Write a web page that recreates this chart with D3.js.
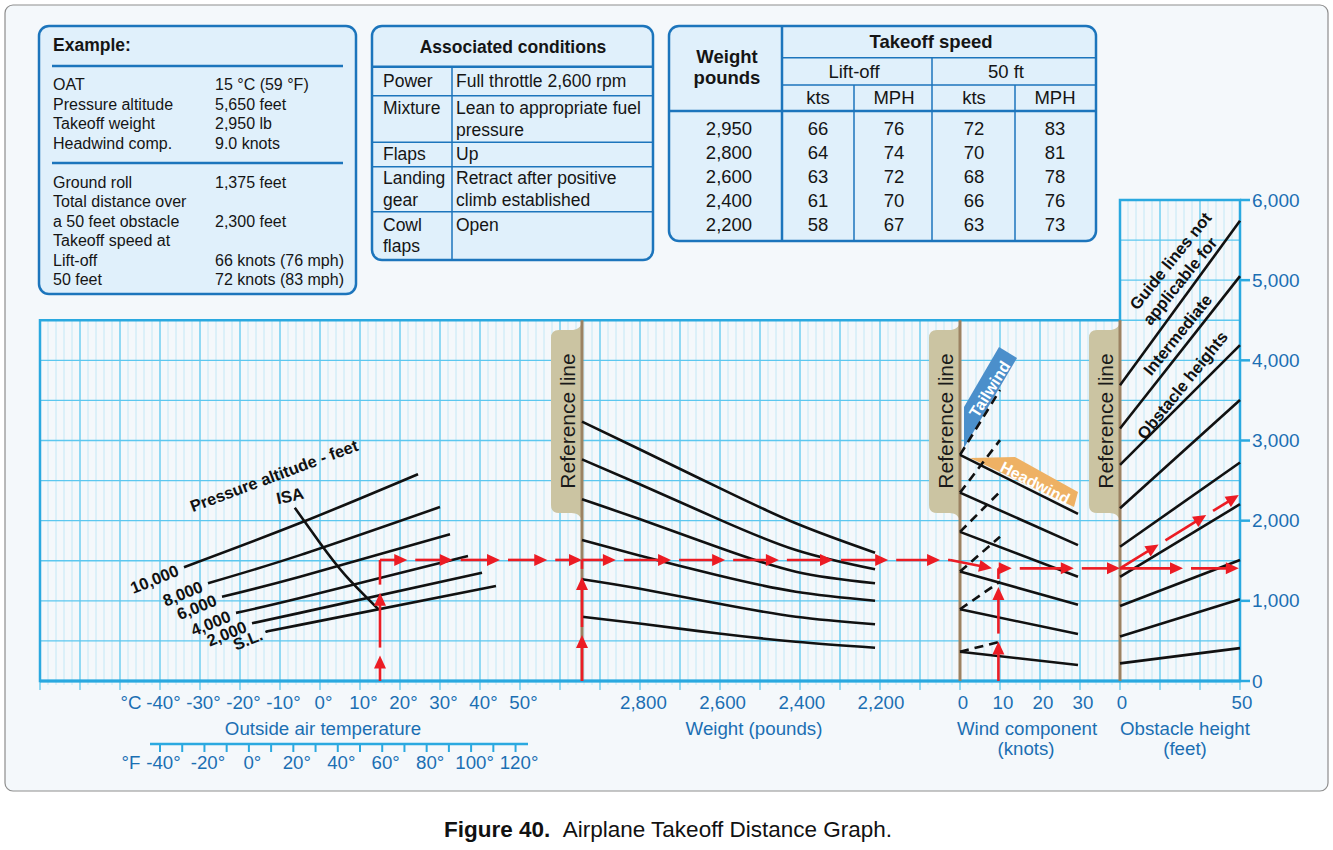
<!DOCTYPE html>
<meta charset="utf-8">
<head>
    <title>Airplane Takeoff Distance Graph</title>
    <script src="https://d3js.org/d3.v7.min.js"></script>
</head>

<style>
body { margin: 0; background: #ffffff; }
svg { display: block; font-family: "Liberation Sans", Arial, Helvetica, sans-serif; }
.boxText { fill: #151515; }
.axisText { fill: #1b6fb3; font-size: 18.7px; }
.curve { fill: none; stroke: #111; stroke-width: 2.6px; }
.note { font-size: 16.5px; font-weight: bold; fill: #111; }
</style>

<body>

<svg></svg>

<script>

// ---- chart values ----

// takeoff distance (feet), shared by every section
let distanceTicks = [0, 1000, 2000, 3000, 4000, 5000, 6000];

// tick labels
let celsiusTicks = [-40, -30, -20, -10, 0, 10, 20, 30, 40, 50];
let fahrenheitTicks = [-40, -30, -20, -10, 0, 10, 20, 30, 40, 50, 60, 70, 80, 90, 100, 110, 120];
let fahrenheitLabels = [-40, -20, 0, 20, 40, 60, 80, 100, 120];
let weightTicks = [2800, 2600, 2400, 2200];
let windTicks = [0, 10, 20, 30];
let obstacleTicks = [0, 50];

// pressure altitude curves: [°C, feet]
let altitudeNames = ["10,000", "8,000", "6,000", "4,000", "2,000", "S.L."];
let altitudeLines = [
  [[-34, 1420], [-5, 1970], [24.5, 2580]],
  [[-28, 1220], [-5, 1570], [30, 2170]],
  [[-24.5, 1050], [-5, 1300], [32.5, 1830]],
  [[-21, 850], [-5, 1035], [37, 1560]],
  [[-17, 720], [-5, 850], [40.5, 1350]],
  [[-13, 620], [-5, 700], [44, 1185]]
];
let isaLine = [[-6.3, 2160], [0, 1720], [6.3, 1320], [14.7, 890]];

// weight guide lines: feet at each weight
let weightSteps = [2950, 2810, 2610, 2410, 2210];
let weightLines = [
  [3235, 2903, 2424, 1967, 1600],
  [2765, 2466, 2029, 1634, 1393],
  [2266, 2029, 1675, 1363, 1219],
  [1759, 1572, 1322, 1114, 1002],
  [1269, 1156, 969, 802, 707],
  [802, 720, 595, 490, 415]
];

// wind guide lines: feet at 0 kt, 29.5 kt (headwind) and 10 kt (tailwind)
let windSteps = [0, 29.5, 10];
let headwindStart = [2820, 2350, 1860, 1365, 895, 365];
let headwindEnd = [2085, 1695, 1300, 950, 585, 200];
let tailwindEnd = [3630, 3005, 2360, 1800, 1240, 490];

// obstacle guide lines: feet at 0 ft and 50 ft obstacle
let obstacleStart = [3690, 3150, 2695, 2155, 1675, 1300, 935, 555, 220];
let obstacleEnd = [5740, 5050, 4190, 3505, 2725, 2205, 1510, 1020, 410];

// worked example path (section, value, feet) and arrowhead spots
let guideLegs = [
  {from: ["temp", 15, 0], to: ["temp", 15, 1510], heads: [0.21, 0.73]},
  {from: ["temp", 15, 1510], to: ["weight", 2950, 1510], heads: [0.135, 0.36, 0.594, 0.828, 1]},
  {from: ["weight", 2950, 0], to: ["weight", 2950, 1510], heads: [0.38, 0.86]},
  {from: ["weight", 2950, 1510], to: ["wind", -2.5, 1510], heads: [0.092, 0.242, 0.389, 0.535, 0.682, 0.832, 0.973]},
  {from: ["wind", -2.5, 1510], to: ["wind", 8, 1405], heads: [1]},
  {from: ["wind", 9.6, 0], to: ["wind", 9.6, 1405], heads: [0.35, 0.835]},
  {from: ["wind", 9.6, 1405], to: ["obstacle", 0, 1405], heads: [0.11, 0.62, 1]},
  {from: ["obstacle", 0, 1405], to: ["obstacle", 50, 1405], heads: [0.525, 0.99]},
  {from: ["obstacle", 0, 1405], to: ["obstacle", 49.5, 2320], heads: [0.325, 0.726, 1]}
];

// boxes
let exampleInputs = [["OAT", "15 °C (59 °F)"], ["Pressure altitude", "5,650 feet"],
  ["Takeoff weight", "2,950 lb"], ["Headwind comp.", "9.0 knots"]];
let exampleResults = [["Ground roll", "1,375 feet"], ["Total distance over", ""],
  ["a 50 feet obstacle", "2,300 feet"], ["Takeoff speed at", ""],
  ["Lift-off", "66 knots (76 mph)"], ["50 feet", "72 knots (83 mph)"]];
let conditionNames = [["Power"], ["Mixture"], ["Flaps"], ["Landing", "gear"], ["Cowl", "flaps"]];
let conditionValues = [["Full throttle 2,600 rpm"], ["Lean to appropriate fuel", "pressure"], ["Up"],
  ["Retract after positive", "climb established"], ["Open"]];

let speedWeights = ["2,950", "2,800", "2,600", "2,400", "2,200"];
let liftoffKts = [66, 64, 63, 61, 58];
let liftoffMph = [76, 74, 72, 70, 67];
let fiftyKts = [72, 70, 68, 66, 63];
let fiftyMph = [83, 81, 78, 76, 73];

// ---- scales ----
let y = d3.scaleLinear().domain([0, 6000]).range([681, 200]);
let xTemp = d3.scaleLinear().domain([0, 50]).range([320, 520]);
let xFahr = function(f) { return xTemp((f - 32) * 5 / 9); };
let xWeight = d3.scaleLinear().domain([2950, 2200]).range([582, 879]);
let xWind = d3.scaleLinear().domain([0, 30]).range([960, 1080]);
let xObst = d3.scaleLinear().domain([0, 50]).range([1120, 1240]);
let sectionX = {temp: xTemp, weight: xWeight, wind: xWind, obstacle: xObst};

let blue = "#1c75bc";
let gridBlue = "#2aa9e0";

var svg = d3.select("svg").attr("width", 1333).attr("height", 850);

// outer frame
svg.append("rect")
  .attr("x", 5).attr("y", 5).attr("width", 1323).attr("height", 786).attr("rx", 8)
  .attr("fill", "#f4f8fb").attr("stroke", "#8d8d8d").attr("stroke-width", 1.2);

// ---- example box ----
let ex = svg.append("g");
ex.append("rect").attr("x", 39).attr("y", 26).attr("width", 317).attr("height", 268).attr("rx", 10)
  .attr("fill", "#e0f0fb").attr("stroke", blue).attr("stroke-width", 2.5);
ex.append("text").attr("class", "boxText").attr("x", 53).attr("y", 51)
  .style("font-weight", "bold").style("font-size", "17.5px").text("Example:");
[66, 163].forEach(function(v) {
  ex.append("line").attr("x1", 52).attr("x2", 343).attr("y1", v).attr("y2", v)
    .attr("stroke", blue).attr("stroke-width", 2.5);
});
function exampleRows(rows, top) {
  rows.forEach(function(r, i) {
    ex.append("text").attr("class", "boxText").attr("x", 53).attr("y", top + i * 19.5)
      .style("font-size", "16px").text(r[0]);
    ex.append("text").attr("class", "boxText").attr("x", 215).attr("y", top + i * 19.5)
      .style("font-size", "16px").text(r[1]);
  });
}
exampleRows(exampleInputs, 90);
exampleRows(exampleResults, 187.5);

// ---- associated conditions ----
let ac = svg.append("g");
ac.append("rect").attr("x", 372).attr("y", 26).attr("width", 281).attr("height", 234).attr("rx", 10)
  .attr("fill", "#e0f0fb").attr("stroke", blue).attr("stroke-width", 2.5);
ac.append("text").attr("class", "boxText").attr("x", 513).attr("y", 53).attr("text-anchor", "middle")
  .style("font-weight", "bold").style("font-size", "17.5px").text("Associated conditions");
let rowEdges = [66.7, 95.7, 142.3, 166.7, 211.7, 260];
rowEdges.slice(0, 5).forEach(function(v, i) {
  ac.append("line").attr("x1", 373).attr("x2", 652).attr("y1", v).attr("y2", v)
    .attr("stroke", blue).attr("stroke-width", i === 0 ? 2.5 : 1.5);
});
ac.append("line").attr("x1", 452).attr("x2", 452).attr("y1", 66.7).attr("y2", 259)
  .attr("stroke", blue).attr("stroke-width", 1.5);
conditionNames.forEach(function(names, i) {
  let top = rowEdges[i], h = rowEdges[i + 1] - top;
  let lines = Math.max(names.length, conditionValues[i].length);
  let base = top + (h - lines * 21.5) / 2 + 16.5;
  names.forEach(function(t, j) {
    ac.append("text").attr("class", "boxText").attr("x", 383).attr("y", base + j * 21.5)
      .style("font-size", "17.5px").text(t);
  });
  conditionValues[i].forEach(function(t, j) {
    ac.append("text").attr("class", "boxText").attr("x", 456).attr("y", base + j * 21.5)
      .style("font-size", "17.5px").text(t);
  });
});

// ---- takeoff speed table ----
let ts = svg.append("g");
ts.append("rect").attr("x", 669).attr("y", 26).attr("width", 427).attr("height", 215).attr("rx", 10)
  .attr("fill", "#e0f0fb").attr("stroke", blue).attr("stroke-width", 2.5);
let tl = function(x1, y1, x2, y2, w) {
  ts.append("line").attr("x1", x1).attr("y1", y1).attr("x2", x2).attr("y2", y2)
    .attr("stroke", blue).attr("stroke-width", w);
};
tl(782, 27, 782, 240, 2.5);
tl(670, 111, 1095, 111, 2.5);
tl(782, 57.7, 1095, 57.7, 1.5);
tl(782, 85, 1095, 85, 1.5);
tl(932, 57.7, 932, 240, 1.5);
tl(854, 85, 854, 240, 1.5);
tl(1015, 85, 1015, 240, 1.5);
let tt = function(x, yy, s, bold) {
  ts.append("text").attr("class", "boxText").attr("x", x).attr("y", yy).attr("text-anchor", "middle")
    .style("font-size", "18.5px").style("font-weight", bold ? "bold" : "normal").text(s);
};
tt(727, 63, "Weight", true);
tt(727, 84, "pounds", true);
tt(931, 48, "Takeoff speed", true);
tt(854, 78, "Lift-off", false);
tt(1006, 78, "50 ft", false);
tt(818, 104, "kts", false);
tt(894, 104, "MPH", false);
tt(974, 104, "kts", false);
tt(1055, 104, "MPH", false);
speedWeights.forEach(function(w, i) {
  let yy = 135 + i * 23.9;
  tt(729, yy, w, false);
  tt(818, yy, liftoffKts[i], false);
  tt(894, yy, liftoffMph[i], false);
  tt(974, yy, fiftyKts[i], false);
  tt(1055, yy, fiftyMph[i], false);
});

// ---- grid ----
let gridLeft = 40, gridRight = xObst(50);
let grid = svg.append("g");
let gx = d3.range(gridLeft, gridRight + 1, 8);
let isMajor = function(d) { return (d - gridLeft) % 40 === 0; };
grid.selectAll(".vgrid").data(gx).enter().append("line")
  .attr("x1", function(d) { return d; }).attr("x2", function(d) { return d; })
  .attr("y1", function(d) { return d >= xObst(0) ? y(6000) : y(4500); })
  .attr("y2", function(d) { return y(0) + (isMajor(d) ? 9 : 4); })
  .attr("stroke", function(d) { return isMajor(d) ? "#5cc7ef" : "#b7e3f6"; })
  .attr("stroke-width", function(d) { return isMajor(d) ? 1.3 : 0.8; });
grid.selectAll(".hgrid").data(d3.range(500, 6000, 500)).enter().append("line")
  .attr("x1", function(d) { return d > 4500 ? xObst(0) : gridLeft; })
  .attr("x2", gridRight)
  .attr("y1", function(d) { return y(d); }).attr("y2", function(d) { return y(d); })
  .attr("stroke", "#5cc7ef").attr("stroke-width", 1.3);

// grid border
grid.append("path")
  .attr("d", "M" + gridLeft + "," + y(0) + "V" + y(4500) + "H" + xObst(0) + "V" + y(6000)
    + "H" + gridRight + "V" + y(0) + "Z")
  .attr("fill", "none").attr("stroke", gridBlue).attr("stroke-width", 2.5);
grid.append("line").attr("x1", gridLeft).attr("x2", gridRight).attr("y1", y(0)).attr("y2", y(0))
  .attr("stroke", gridBlue).attr("stroke-width", 3);

// ---- reference lines ----
let refX = [xWeight(2950), xWind(0), xObst(0)];
refX.forEach(function(rx) {
  // tab with a small flare into the line at the top
  svg.append("path")
    .attr("d", "M" + rx + "," + 322 + "C" + (rx - 2) + ",330 " + (rx - 8) + ",330 " + (rx - 12) + ",330"
      + "H" + (rx - 23) + "Q" + (rx - 31) + ",330 " + (rx - 31) + ",338"
      + "V" + 505 + "Q" + (rx - 31) + ",513 " + (rx - 23) + ",513"
      + "H" + (rx - 12) + "C" + (rx - 8) + ",513 " + (rx - 2) + ",513 " + rx + ",521Z")
    .attr("fill", "#cbc4a2");
  svg.append("line").attr("x1", rx).attr("x2", rx).attr("y1", y(4500)).attr("y2", y(0))
    .attr("stroke", "#9c8262").attr("stroke-width", 3);
  svg.append("text").attr("transform", "translate(" + (rx - 14) + ",421) rotate(-90)")
    .attr("text-anchor", "middle").attr("dy", "0.35em")
    .style("font-size", "21px").style("fill", "#1a1a1a").text("Reference line");
});

// ---- wind banners ----
svg.append("path")
  .attr("d", d3.line()([[xWind(1), y(2906)], [xWind(1), y(3418)], [xWind(9.75), y(4166)], [xWind(14.25), y(4029)]]) + "Z")
  .attr("fill", "#4b8fcb");
svg.append("path")
  .attr("d", d3.line()([[xWind(2.5), y(2782)], [xWind(13.75), y(2794)], [xWind(29.5), y(2358)], [xWind(28.5), y(2171)]]) + "Z")
  .attr("fill", "#eeb164");
svg.append("text").attr("transform", "translate(" + xWind(7.4) + "," + y(3640) + ") rotate(-58)")
  .attr("text-anchor", "middle").attr("dy", "0.35em")
  .style("font-size", "16px").style("font-weight", "bold").style("fill", "#fff").text("Tailwind");
svg.append("text").attr("transform", "translate(" + xWind(18.8) + "," + y(2470) + ") rotate(27)")
  .attr("text-anchor", "middle").attr("dy", "0.35em")
  .style("font-size", "16px").style("font-weight", "bold").style("fill", "#fff").text("Headwind");

// ---- guide curves ----
let curves = svg.append("g");
let tempLine = d3.line().x(function(d) { return xTemp(d[0]); }).y(function(d) { return y(d[1]); })
  .curve(d3.curveNatural);
curves.selectAll(".alt").data(altitudeLines).enter().append("path")
  .attr("class", "curve").attr("d", tempLine);
curves.append("path").attr("class", "curve").attr("d", tempLine(isaLine));

let wLine = d3.line().x(function(d, i) { return xWeight(weightSteps[i]); }).y(function(d) { return y(d); })
  .curve(d3.curveNatural);
curves.selectAll(".wt").data(weightLines).enter().append("path")
  .attr("class", "curve").attr("d", wLine);

curves.selectAll(".hw").data(headwindStart).enter().append("line").attr("class", "curve")
  .attr("x1", xWind(windSteps[0])).attr("x2", xWind(windSteps[1]))
  .attr("y1", function(d) { return y(d); })
  .attr("y2", function(d, i) { return y(headwindEnd[i]); });
curves.selectAll(".tw").data(headwindStart).enter().append("line").attr("class", "curve")
  .attr("x1", xWind(windSteps[0])).attr("x2", xWind(windSteps[2]))
  .attr("y1", function(d) { return y(d); })
  .attr("y2", function(d, i) { return y(tailwindEnd[i]); })
  .style("stroke-dasharray", "9,6");

curves.selectAll(".ob").data(obstacleStart).enter().append("line").attr("class", "curve")
  .attr("x1", xObst(0)).attr("x2", xObst(50))
  .attr("y1", function(d) { return y(d); })
  .attr("y2", function(d, i) { return y(obstacleEnd[i]); });

// altitude labels
altitudeLines.forEach(function(pts, i) {
  let sx = xTemp(pts[0][0]), sy = y(pts[0][1]);
  curves.append("text").attr("class", "note")
    .attr("transform", "translate(" + (sx - 4) + "," + (sy + 8) + ") rotate(-22)")
    .attr("text-anchor", "end").text(altitudeNames[i]);
});
curves.append("text").attr("class", "note")
  .attr("transform", "translate(" + xTemp(-11.5) + "," + y(2560) + ") rotate(-20.5)")
  .attr("text-anchor", "middle").attr("dy", "0.35em").text("Pressure altitude - feet");
curves.append("text").attr("class", "note")
  .attr("transform", "translate(" + xTemp(-7.5) + "," + y(2310) + ") rotate(-12)")
  .attr("text-anchor", "middle").attr("dy", "0.35em").text("ISA");

// obstacle labels
let obstacleNotes = [["Guide lines not", 21, 5240], ["applicable for", 25, 4990], ["Intermediate", 24, 4320], ["Obstacle heights", 26, 3690]];
obstacleNotes.forEach(function(n) {
  curves.append("text").attr("class", "note")
    .attr("transform", "translate(" + xObst(n[1]) + "," + y(n[2]) + ") rotate(-51)")
    .attr("text-anchor", "middle").attr("dy", "0.35em").text(n[0]);
});

// ---- worked example (red) ----
let red = "#ec1c24";
let guide = svg.append("g");
function pt(p) { return [sectionX[p[0]](p[1]), y(p[2])]; }
guideLegs.forEach(function(leg) {
  let a = pt(leg.from), b = pt(leg.to);
  let len = Math.hypot(b[0] - a[0], b[1] - a[1]);
  let ux = (b[0] - a[0]) / len, uy = (b[1] - a[1]) / len;
  let at = function(s) { return [a[0] + ux * s, a[1] + uy * s]; };
  let start = 0, headLen = 13, gap = 8;
  leg.heads.forEach(function(t) {
    let tip = t * len;
    let p0 = at(start), p1 = at(tip - headLen + 1);
    guide.append("line").attr("x1", p0[0]).attr("y1", p0[1]).attr("x2", p1[0]).attr("y2", p1[1])
      .attr("stroke", red).attr("stroke-width", 2.6);
    let tp = at(tip), bp = at(tip - headLen);
    guide.append("path")
      .attr("d", d3.line()([tp, [bp[0] - uy * 6, bp[1] + ux * 6], [bp[0] + uy * 6, bp[1] - ux * 6]]) + "Z")
      .attr("fill", red);
    start = tip + gap;
  });
  if (start < len) {
    let p0 = at(start);
    guide.append("line").attr("x1", p0[0]).attr("y1", p0[1]).attr("x2", b[0]).attr("y2", b[1])
      .attr("stroke", red).attr("stroke-width", 2.6);
  }
});

// ---- axes ----
let ax = svg.append("g");

// right distance axis
distanceTicks.forEach(function(d) {
  ax.append("line").attr("x1", gridRight).attr("x2", gridRight + 10).attr("y1", y(d)).attr("y2", y(d))
    .attr("stroke", gridBlue).attr("stroke-width", 2.5);
  ax.append("text").attr("class", "axisText").attr("x", gridRight + 12).attr("y", y(d)).attr("dy", "0.35em")
    .style("font-size", "19px").text(d3.format(",")(d));
});

// celsius
ax.append("text").attr("class", "axisText").attr("x", 131).attr("y", 709).attr("text-anchor", "middle").text("°C");
ax.selectAll(".cl").data(celsiusTicks).enter().append("text").attr("class", "axisText")
  .attr("x", function(d) { return xTemp(d) + 3.5; }).attr("y", 709).attr("text-anchor", "middle")
  .text(function(d) { return d + "°"; });
ax.append("text").attr("class", "axisText").attr("x", 323).attr("y", 735).attr("text-anchor", "middle")
  .text("Outside air temperature");

// fahrenheit
ax.append("line").attr("x1", 150).attr("x2", 528).attr("y1", 744).attr("y2", 744)
  .attr("stroke", gridBlue).attr("stroke-width", 2.5);
ax.selectAll(".ft").data(fahrenheitTicks).enter().append("line")
  .attr("x1", xFahr).attr("x2", xFahr).attr("y1", 744).attr("y2", 752)
  .attr("stroke", gridBlue).attr("stroke-width", 2);
ax.append("text").attr("class", "axisText").attr("x", 131).attr("y", 769).attr("text-anchor", "middle").text("°F");
ax.selectAll(".fl").data(fahrenheitLabels).enter().append("text").attr("class", "axisText")
  .attr("x", function(d) { return xFahr(d) + 3.5; }).attr("y", 769).attr("text-anchor", "middle")
  .text(function(d) { return d + "°"; });

// weight
ax.selectAll(".wl").data(weightTicks).enter().append("text").attr("class", "axisText")
  .attr("x", function(d) { return xWeight(d) + 2; }).attr("y", 709).attr("text-anchor", "middle")
  .text(d3.format(","));
ax.append("text").attr("class", "axisText").attr("x", 754).attr("y", 735).attr("text-anchor", "middle")
  .text("Weight (pounds)");

// wind
ax.selectAll(".wdl").data(windTicks).enter().append("text").attr("class", "axisText")
  .attr("x", function(d) { return xWind(d) + 3; }).attr("y", 709).attr("text-anchor", "middle")
  .text(function(d) { return d; });
ax.append("text").attr("class", "axisText").attr("x", 1027).attr("y", 735).attr("text-anchor", "middle")
  .text("Wind component");
ax.append("text").attr("class", "axisText").attr("x", 1026).attr("y", 755).attr("text-anchor", "middle")
  .text("(knots)");

// obstacle
ax.selectAll(".ol").data(obstacleTicks).enter().append("text").attr("class", "axisText")
  .attr("x", function(d) { return xObst(d) + 2; }).attr("y", 709).attr("text-anchor", "middle")
  .text(function(d) { return d; });
ax.append("text").attr("class", "axisText").attr("x", 1185).attr("y", 735).attr("text-anchor", "middle")
  .text("Obstacle height");
ax.append("text").attr("class", "axisText").attr("x", 1185).attr("y", 755).attr("text-anchor", "middle")
  .text("(feet)");

// ---- caption ----
let cap = svg.append("text").attr("x", 668).attr("y", 837).attr("text-anchor", "middle")
  .style("font-size", "22.5px").style("fill", "#111");
cap.append("tspan").style("font-weight", "bold").text("Figure 40.");
cap.append("tspan").text("\u00a0\u00a0Airplane Takeoff Distance Graph.");

</script>

</body>
